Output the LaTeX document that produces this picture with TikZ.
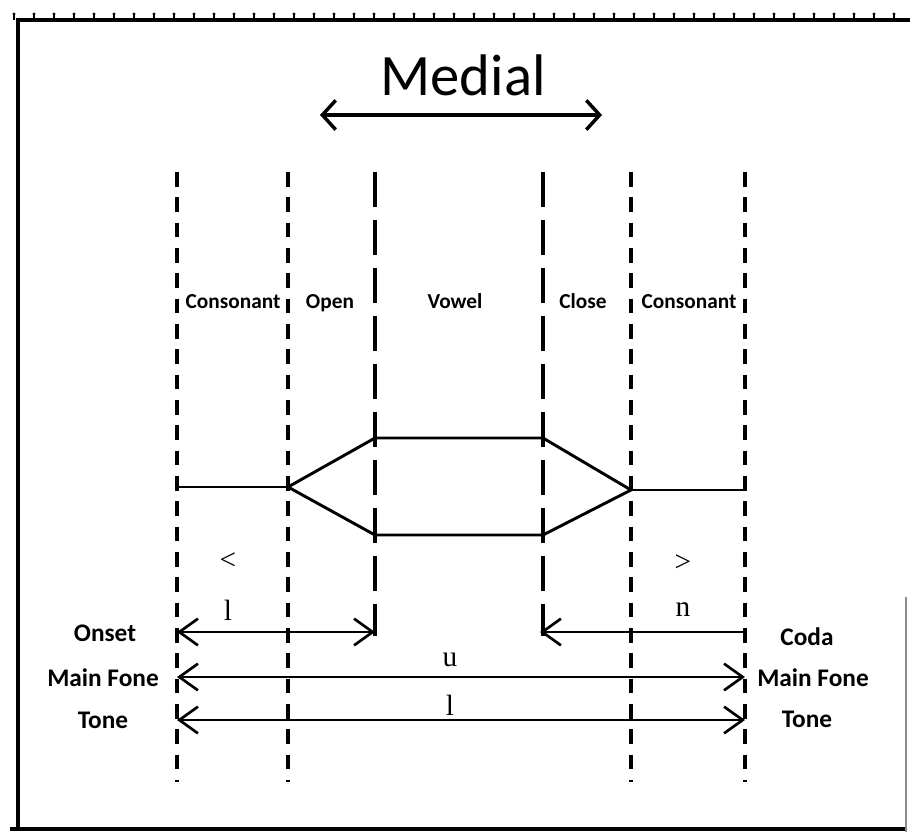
\documentclass[tikz,border=0pt]{standalone}
\usepackage{fontspec}
\setmainfont{Liberation Serif}
\newfontfamily\lblfont{Carlito}
\usetikzlibrary{arrows.meta}

\begin{document}
\begin{tikzpicture}[x=0.75pt,y=-0.75pt,
  frame/.style={line width=2.8pt},
  guide/.style={line width=3pt, dash pattern=on 11pt off 8pt},
  trace/.style={line width=2.2pt, line join=miter},
  barb/.tip={Straight Barb[length=14pt,width=20pt,line width=2pt]},
  span/.style={line width=2.2pt},
  colhead/.style={font=\lblfont\bfseries\fontsize{16}{19}\selectfont, inner sep=0pt, anchor=base},
  sidelbl/.style={font=\lblfont\bfseries\fontsize{19}{22}\selectfont, inner sep=0pt, anchor=base},
  sym/.style={font=\fontsize{22}{24}\selectfont, inner sep=0pt},
  title/.style={font=\lblfont\fontsize{44}{50}\selectfont, inner sep=0pt}]
\useasboundingbox (0,0) rectangle (910,832);

% outer frame with the row of small marks on top
\draw[frame] (910,20) -- (18,20) -- (18,830);
\draw[frame] (10,829) -- (905,829);
\draw[line width=0.8pt, black!45] (906,597) -- (906,832);
\foreach \k in {0,...,44} {
  \draw[line width=1.4pt] ({14+20*\k},13) -- ({14+20*\k},20);
  \fill ({14+20*\k},14) circle (1.6);
}

% heading and its arrow
\node[title] (medial) at (463,75) {Medial};
\coordinate (mL) at (320,115);
\coordinate (mR) at (602,115);
\draw[line width=3pt, {Straight Barb[length=10pt,width=22pt,line width=2.6pt]}-{Straight Barb[length=10pt,width=22pt,line width=2.6pt]}] (mL) -- (mR);

% segment boundaries
\coordinate (g1t) at (177,172); \coordinate (g1b) at (177,782);
\coordinate (g2t) at (288,172); \coordinate (g2b) at (288,782);
\coordinate (g3t) at (375,172); \coordinate (g3b) at (375,636);
\coordinate (g4t) at (543,172); \coordinate (g4b) at (543,636);
\coordinate (g5t) at (631,172); \coordinate (g5b) at (631,782);
\coordinate (g6t) at (745,172); \coordinate (g6b) at (745,782);
\foreach \g in {1,2,5,6} \draw[guide] (g\g t) -- (g\g b);
\draw[line width=3pt, dash pattern=on 26pt off 10pt] (g3t) -- (g3b);
\draw[line width=3pt, dash pattern=on 26pt off 10pt] (g4t) -- (g4b);

% column headings
\node[colhead] (hc1) at (233,308) {Consonant};
\node[colhead] (ho)  at (330,308) {Open};
\node[colhead] (hv)  at (455,308) {Vowel};
\node[colhead] (hc)  at (583,308) {Close};
\node[colhead] (hc2) at (689,308) {Consonant};

% articulation trace
\coordinate (tA) at (177,487);
\coordinate (tB) at (288,487);
\coordinate (tC) at (375,438);
\coordinate (tD) at (543,438);
\coordinate (tE) at (631,490);
\coordinate (tF) at (543,535);
\coordinate (tG) at (375,535);
\coordinate (tH) at (745,490);
\draw[trace] (tA) -- (tB);
\draw[trace] (tB) -- (tC) -- (tD) -- (tE) -- (tF) -- (tG) -- cycle;
\draw[trace] (tE) -- (tH);

% small symbols
\node[sym] (lt) at (228,561) {<};
\node[sym] (gt) at (683,563) {>};
\node[sym] (sl) at (228,610) {l};
\node[sym] (sn) at (683,610) {n};
\node[sym] (su) at (450,660) {u};
\node[sym] (sl2) at (450,705) {l};

% spans
\coordinate (oL) at (177,632); \coordinate (oR) at (375,632);
\coordinate (cL) at (540,632); \coordinate (cR) at (745,632);
\coordinate (fL) at (177,677); \coordinate (fR) at (745,677);
\coordinate (nL) at (177,720); \coordinate (nR) at (745,720);
\draw[span, barb-barb] (oL) -- (oR);
\draw[span, barb-] (cL) -- (cR);
\draw[line width=2pt] (cR) -- ++(0,6);
\draw[span, barb-barb] (fL) -- (fR);
\draw[span, barb-barb] (nL) -- (nR);

% side labels
\node[sidelbl] (onset) at (105,641) {Onset};
\node[sidelbl] (mfL)   at (103,686) {Main Fone};
\node[sidelbl] (toneL) at (103,728) {Tone};
\node[sidelbl] (coda)  at (807,645) {Coda};
\node[sidelbl] (mfR)   at (813,686) {Main Fone};
\node[sidelbl] (toneR) at (807,727) {Tone};
\end{tikzpicture}
\end{document}
